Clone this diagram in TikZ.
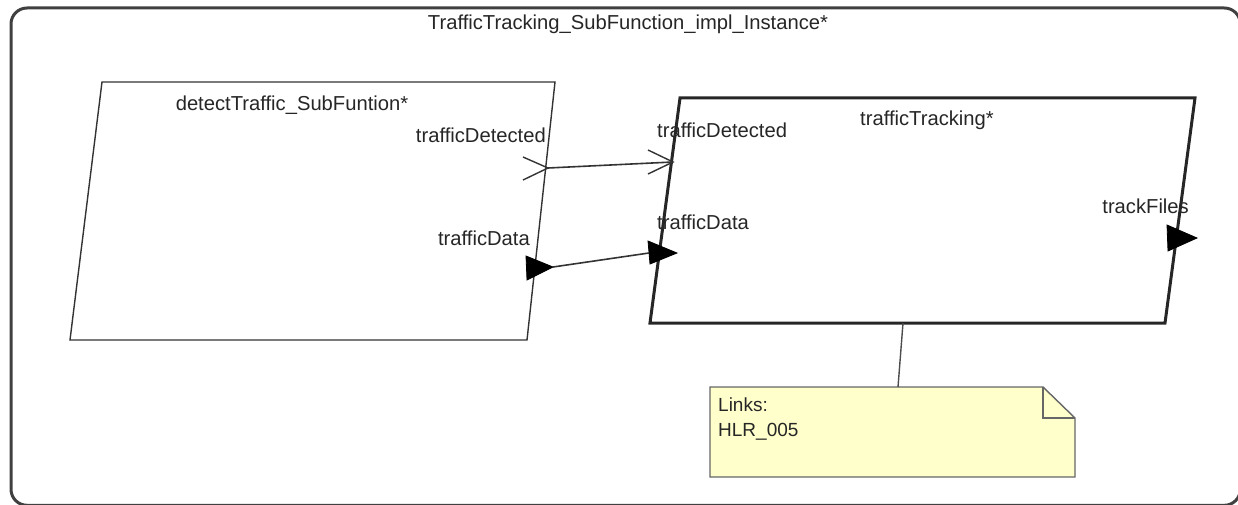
\documentclass[tikz,border=0pt]{standalone}
\usepackage{fontspec}
\setmainfont{Liberation Sans}
\begin{document}
\begin{tikzpicture}[x=1pt,y=-1pt,
  lbl/.style={inner sep=0pt,text=black!85,font=\fontsize{20.2}{23}\selectfont},
  thinline/.style={draw=black!80,line width=1.4pt},
  thickline/.style={draw=black!85,line width=3pt},
  porttri/.style={fill=black,draw=black,line width=0.8pt,line join=miter},
  notebox/.style={draw=black!60,line width=1.4pt,fill={rgb,255:red,255;green,255;blue,204}}]
\useasboundingbox (0,0) rectangle (1238,505);
\clip (0,0) rectangle (1238,505);

% outer instance frame
\draw[draw=black!75,line width=3pt,rounded corners=16pt] (11,8) rectangle (1240.3,505.3);
\node[lbl] (title) at (628,24) {TrafficTracking\_SubFunction\_impl\_Instance*};

% detectTraffic block
\draw[thinline] (102,82) -- (555,82) -- (527,340) -- (70,340) -- cycle;
\node[lbl] (dtname) at (292,105) {detectTraffic\_SubFuntion*};
\node[lbl,anchor=east] (dtout) at (546,135) {trafficDetected};
\node[lbl,anchor=east] (ddout) at (530,238) {trafficData};

% trafficTracking block
\draw[thickline] (680,98) -- (1195,98) -- (1165,323) -- (650,323) -- cycle;
\node[lbl] (ttname) at (927,120) {trafficTracking*};
\node[lbl,anchor=west] (dtin) at (657,130) {trafficDetected};
\node[lbl,anchor=west] (ddin) at (657,222) {trafficData};
\node[lbl,anchor=east] (tfout) at (1189,206) {trackFiles};

% port anchor points
\coordinate (pDetOut) at (548,168);
\coordinate (pDetIn) at (673,162);
\coordinate (pDataOut) at (553,267);
\coordinate (pDataIn) at (649,253);
\coordinate (pTrack) at (1197,238);

% event ports (open chevrons)
\draw[draw=black!80,line width=1.4pt] (523,157) -- (pDetOut) -- (523,180);
\draw[draw=black!80,line width=1.4pt] (648,150) -- (pDetIn) -- (648,174);
\draw[draw=black!80,line width=1.6pt] (pDetOut) -- (pDetIn);

% data ports (filled triangles)
\path[porttri] (526,256) -- (pDataOut) -- (527,280) -- cycle;
\path[porttri] (648,241) -- (677,253) -- (650,264) -- cycle;
\path[porttri] (1167,225) -- (pTrack) -- (1168,251) -- cycle;
\draw[draw=black!80,line width=1.6pt] (pDataOut) -- (pDataIn);

% note
\draw[notebox] (710,387) -- (1043,387) -- (1075,418) -- (1075,477) -- (710,477) -- cycle;
\draw[draw=black!60,line width=1.4pt] (1043,387) -- (1043,418) -- (1075,418);
\node[lbl,anchor=north west,align=left,font=\fontsize{19}{25}\selectfont] (note) at (718,398) {Links:\\HLR\_005};
\coordinate (noteTop) at (898,387);
\coordinate (ttBottom) at (903,323);
\draw[draw=black!70,line width=1.4pt] (ttBottom) -- (noteTop);
\end{tikzpicture}
\end{document}
